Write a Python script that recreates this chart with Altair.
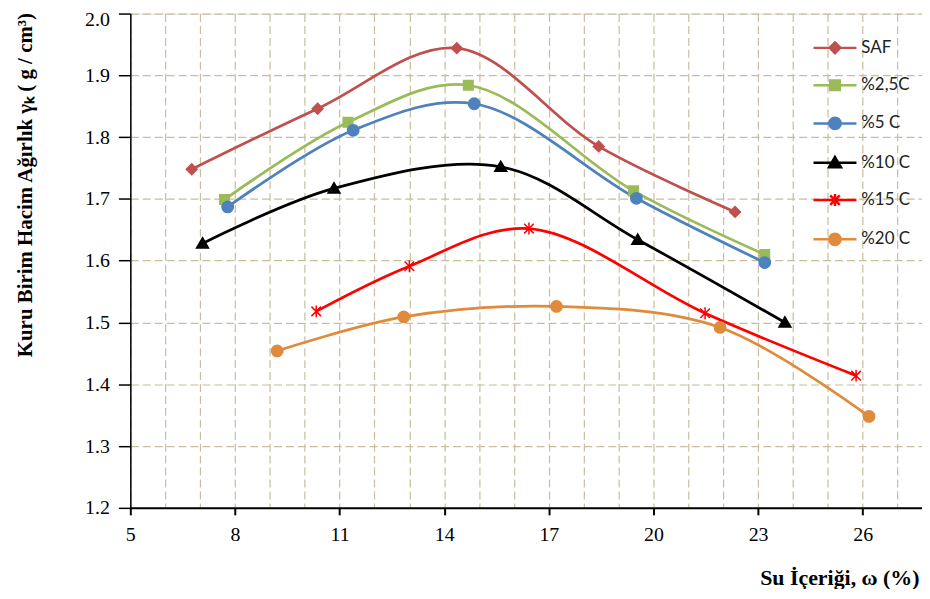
import altair as alt
import pandas as pd

series_names = ["SAF", "%2,5C", "%5 C", "%10 C", "%15 C", "%20 C"]
series_colors = ["#C0504D", "#9BBB59", "#4F81BD", "#000000", "#FF0000", "#E08A3C"]

saf_x = [6.76, 10.37, 14.36, 18.43, 22.34]
saf_y = [1.748, 1.846, 1.944, 1.785, 1.679]
c25_x = [7.70, 11.24, 14.69, 19.43, 23.19]
c25_y = [1.699, 1.824, 1.884, 1.713, 1.610]
c5_x = [7.79, 11.39, 14.86, 19.51, 23.19]
c5_y = [1.687, 1.811, 1.854, 1.701, 1.597]
c10_x = [7.07, 10.84, 15.62, 19.55, 23.77]
c10_y = [1.628, 1.717, 1.752, 1.634, 1.500]
c15_x = [10.33, 13.00, 16.43, 21.48, 25.81]
c15_y = [1.518, 1.591, 1.652, 1.515, 1.414]
c20_x = [9.21, 12.84, 17.22, 21.91, 26.18]
c20_y = [1.454, 1.509, 1.526, 1.492, 1.348]

x_ticks = list(range(5, 28))
y_ticks = [1.2, 1.3, 1.4, 1.5, 1.6, 1.7, 1.8, 1.9, 2.0]

# marker paths (unit coords) for the plot points
marker_paths = [
    "M0,-0.9L0.9,0L0,0.9L-0.9,0Z",
    "M-0.8,-0.8H0.8V0.8H-0.8Z",
    "M-0.95,0A0.95,0.95,0,1,1,0.95,0A0.95,0.95,0,1,1,-0.95,0Z",
    "M0,-0.95L1,0.75H-1Z",
    "M-0.8,-0.8L0.8,0.8M-0.8,0.8L0.8,-0.8M0,-1V1",
    "M-0.95,0A0.95,0.95,0,1,1,0.95,0A0.95,0.95,0,1,1,-0.95,0Z",
]
# legend symbols: line segment plus marker
legend_paths = ["M-3.6,0H3.6" + p for p in marker_paths]

rows = []
for name, xs, ys in zip(series_names,
                        [saf_x, c25_x, c5_x, c10_x, c15_x, c20_x],
                        [saf_y, c25_y, c5_y, c10_y, c15_y, c20_y]):
    for xv, yv in zip(xs, ys):
        rows.append({"series": name, "w": xv, "g": yv})
df = pd.DataFrame(rows)

x_enc = alt.X("w:Q", scale=alt.Scale(domain=[5, 27.7], nice=False, zero=False),
              axis=alt.Axis(values=x_ticks, tickCount=40, format="d",
                            labelExpr="datum.value % 3 == 2 ? datum.label : ''",
                            tickOpacity={"condition": {"test": "datum.value % 3 == 2", "value": 1}, "value": 0},
                            labelOverlap=False, labelFlush=False,
                            grid=True, gridDash=[8, 4], gridColor="#C6BE9F", gridWidth=1.2,
                            domainColor="#000000", domainWidth=2,
                            tickColor="#000000", tickSize=7, tickWidth=2,
                            labelFont="Liberation Serif", labelFontSize=20, labelColor="#000000",
                            labelPadding=10,
                            title="Su İçeriği, ω (%)", titleFont="Liberation Serif",
                            titleFontSize=22, titleFontWeight="bold", titleColor="#000000",
                            titleAlign="right", titleBaseline="middle",
                            titleX=793, titleY=70))
y_enc = alt.Y("g:Q", scale=alt.Scale(domain=[1.2, 2.0], nice=False, zero=False),
              axis=alt.Axis(values=y_ticks, format=".1f", tickCount=20,
                            labelOffset={"condition": {"test": "datum.value >= 1.99", "value": 6}, "value": 0},
                            grid=True, gridDash=[8, 4], gridColor="#C6BE9F", gridWidth=1.2,
                            domainColor="#000000", domainWidth=1.5,
                            tickColor="#000000", tickSize=12, tickWidth=1.5,
                            labelFont="Liberation Serif", labelFontSize=20, labelColor="#000000",
                            labelPadding=9,
                            title="Kuru Birim Hacim Ağırlık γₖ ( g / cm³)",
                            titleFont="Liberation Serif", titleFontSize=21,
                            titleFontWeight="bold", titleColor="#000000",
                            titleAngle=270, titleAlign="center", titleBaseline="middle",
                            titleX=-105, titleY=172))

color_scale = alt.Scale(domain=series_names, range=series_colors)

lines = alt.Chart(df).mark_line(interpolate="catmull-rom", strokeWidth=2.75).encode(
    x=x_enc, y=y_enc,
    color=alt.Color("series:N", scale=color_scale, legend=None),
)

points = alt.Chart(df).mark_point(filled=True, size=144, opacity=1, strokeWidth=1.5).encode(
    x="w:Q", y="g:Q",
    fill=alt.Fill("series:N", scale=color_scale, legend=None),
    stroke=alt.Stroke("series:N", scale=color_scale, legend=None),
    shape=alt.Shape("series:N", scale=alt.Scale(domain=series_names, range=marker_paths), legend=None),
)

leg = alt.Legend(title=None, orient="none", legendX=700, legendY=26, padding=0,
                 symbolSize=144, symbolStrokeWidth=2.5, labelOffset=18,
                 labelFont="Lato", labelFontSize=17, labelColor="#222222",
                 rowPadding=16.5, symbolOpacity=1)

legend_layer = alt.Chart(df).transform_filter("false").mark_point(
    filled=True, size=144, opacity=1, strokeWidth=2.5).encode(
    x="w:Q", y="g:Q",
    fill=alt.Fill("series:N", scale=color_scale, legend=leg),
    stroke=alt.Stroke("series:N", scale=color_scale, legend=leg),
    shape=alt.Shape("series:N", scale=alt.Scale(domain=series_names, range=legend_paths), legend=leg),
)

chart = alt.layer(lines, points, legend_layer).resolve_scale(
    shape="independent", fill="independent", stroke="independent"
).properties(
    width=796, height=497,
    padding={"left": 123, "top": 4, "right": 0, "bottom": 80},
    autosize=alt.AutoSizeParams(type="none"),
).configure_view(stroke=None).configure(background="white")

chart.save("out.html", embed_options={"renderer": "svg", "actions": False})
